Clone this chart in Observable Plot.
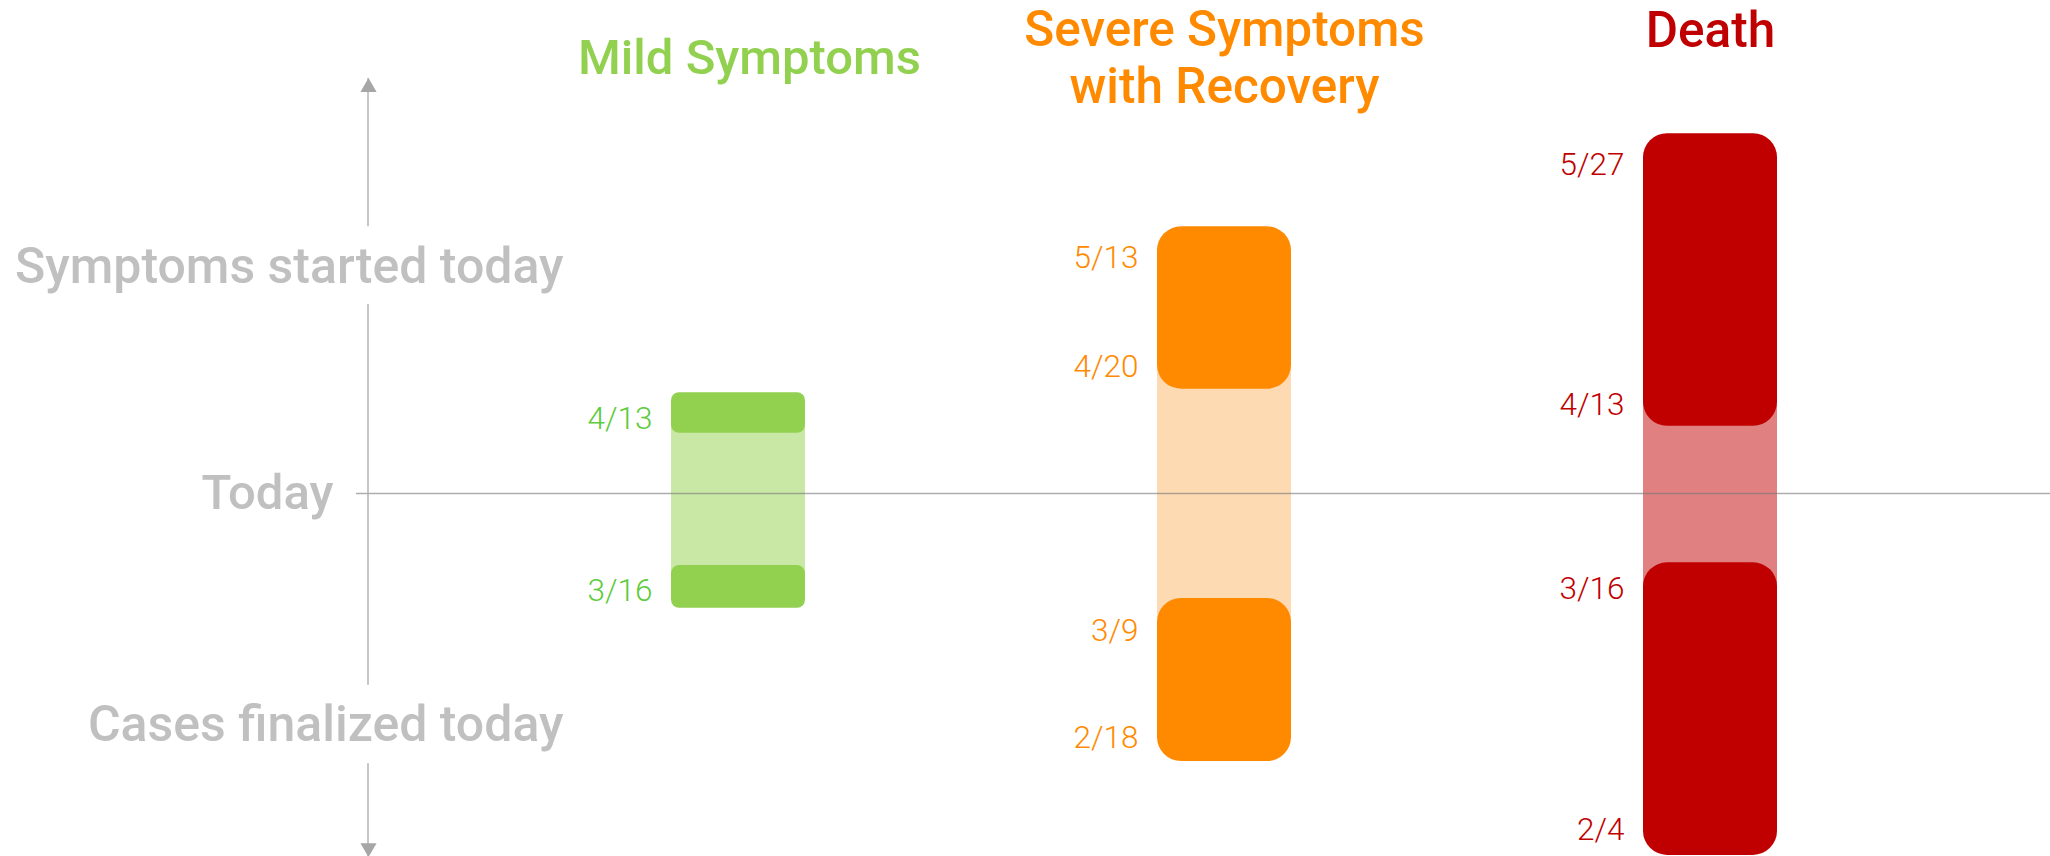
<!DOCTYPE html>
<html>
<head>
<meta charset="utf-8">
<script src="https://cdn.jsdelivr.net/npm/d3@7"></script>
<script src="https://cdn.jsdelivr.net/npm/@observablehq/plot@0.6"></script>
<style>
  html, body { margin: 0; padding: 0; background: #ffffff; }
  #chart svg { display: block; }
</style>
</head>
<body>
<div id="chart"></div>
<script>
// ---- data (schematic positions, units ≈ days relative to the "Today" line) ----
const categories = ["Mild Symptoms", "Severe Symptoms\nwith Recovery", "Death"];
const darkColors = ["#92d050", "#ff8a00", "#c00000"];
const lightColors = ["#c9e8a6", "#fedab3", "#e08080"];
const labelColors = ["#5ccb3c", "#ff8a00", "#c00000"];
const titleY = [62.1, 62.4, 66.4];

// block for "Symptoms started today" (upper) and "Cases finalized today" (lower)
const upperFrom = [8.6, 14.9, 9.6];
const upperTo = [14.4, 38.1, 51.4];
const lowerFrom = [-10.3, -15.0, -9.9];
const lowerTo = [-16.4, -38.3, -51.7];

// date labels
const labelCategory = [0, 0, 1, 1, 1, 1, 2, 2, 2, 2];
const labelText = ["4/13", "3/16", "5/13", "4/20", "3/9", "2/18", "5/27", "4/13", "3/16", "2/4"];
const labelPos = [10.6, -13.9, 33.7, 18.1, -19.6, -34.9, 47.0, 12.7, -13.6, -48.0];

// left axis
const sideText = ["Symptoms started today", "Cases finalized today"];
const sidePos = [32.4, -33.1];
const todayText = ["Today"];
const axisSegments = [[59.3, 38.1], [27.0, -27.4], [-38.6, -51.9]];
const arrowTop = [59.3];
const arrowBottom = [-51.9];

// ---- tables built from the arrays ----
const blocks = categories.map((c, i) => ({
  category: c, dark: darkColors[i], light: lightColors[i],
  upperFrom: upperFrom[i], upperTo: upperTo[i], lowerFrom: lowerFrom[i], lowerTo: lowerTo[i],
  mild: i === 0
}));
const segs = blocks.flatMap(b => [
  {category: b.category, y1: b.upperFrom, y2: b.upperTo, fill: b.dark, mild: b.mild},
  {category: b.category, y1: b.lowerFrom, y2: b.lowerTo, fill: b.dark, mild: b.mild}
]);
const labels = labelText.map((t, i) => ({
  category: categories[labelCategory[i]], text: t, y: labelPos[i], fill: labelColors[labelCategory[i]]
}));
const titles = categories.map((c, i) => ({category: c, y: titleY[i], fill: darkColors[i], mild: i === 0}));

const FONT = "Roboto, 'Liberation Sans', 'Helvetica Neue', Helvetica, Arial, sans-serif";
const GREY = "#c0c0c0";
const AXIS = "#b3b3b3";

const axisLine = (index, scales, values, dimensions) => {
  const g = d3.create("svg:g")
    .attr("stroke", AXIS).attr("stroke-width", 1.5);
  for (const [a, b] of axisSegments) {
    g.append("line")
      .attr("x1", dimensions.marginLeft).attr("x2", dimensions.marginLeft)
      .attr("y1", scales.y(a)).attr("y2", scales.y(b));
  }
  return g.node();
};

const chart = Plot.plot({
  width: 2050,
  height: 856,
  marginLeft: 368,
  marginRight: 0,
  marginTop: 0,
  marginBottom: 0,
  style: {fontFamily: FONT, background: "#ffffff", overflow: "visible"},
  x: {type: "band", domain: categories, range: [495, 1953], paddingInner: 0.7243, paddingOuter: 0.362, axis: null},
  y: {domain: [-52, 70], range: [857, 3], axis: null},
  marks: [
    // light connecting band
    Plot.barY(blocks, {x: "category", y1: "upperFrom", y2: "lowerFrom", fill: "light",
      insetTop: -24, insetBottom: -24, filter: d => !d.mild}),
    Plot.barY(blocks, {x: "category", y1: "upperFrom", y2: "lowerFrom", fill: "light",
      insetTop: -8, insetBottom: -8, filter: d => d.mild}),
    // dark blocks
    Plot.barY(segs, {x: "category", y1: "y1", y2: "y2", fill: "fill", rx: 24, filter: d => !d.mild}),
    Plot.barY(segs, {x: "category", y1: "y1", y2: "y2", fill: "fill", rx: 8, filter: d => d.mild}),
    // today line
    Plot.ruleY([0], {stroke: "#777777", strokeOpacity: 0.6, strokeWidth: 1.5, insetLeft: -12}),
    // left axis
    axisLine,
    Plot.dot(arrowTop, {frameAnchor: "left", y: d => d, symbol: "triangle", r: 6, dy: 9,
      fill: "#a6a6a6", stroke: null}),
    Plot.dot(arrowBottom, {frameAnchor: "left", y: d => d, symbol: "triangle", r: 6, dy: -9, rotate: 180,
      fill: "#a6a6a6", stroke: null}),
    Plot.text(sideText, {frameAnchor: "left", y: (d, i) => sidePos[i], text: d => d, textAnchor: "end",
      dx: 195, fill: GREY, fontSize: 50, fontWeight: 500}),
    Plot.text(todayText, {frameAnchor: "left", y: () => 0, text: d => d, textAnchor: "end",
      dx: -35, fill: GREY, fontSize: 49, fontWeight: 500}),
    // date labels
    Plot.text(labels, {x: "category", y: "y", text: "text", fill: "fill", textAnchor: "end",
      dx: -86, fontSize: 31.5, fontWeight: 300}),
    // titles
    Plot.text(titles, {x: "category", y: "y", text: "category", fill: "fill", filter: d => !d.mild,
      fontSize: 49.5, fontWeight: 500, lineHeight: 1.15}),
    Plot.text(titles, {x: "category", y: "y", text: "category", fill: "fill", filter: d => d.mild,
      dx: 11, fontSize: 49, fontWeight: 500})
  ]
});
document.getElementById("chart").appendChild(chart);
</script>
</body>
</html>
